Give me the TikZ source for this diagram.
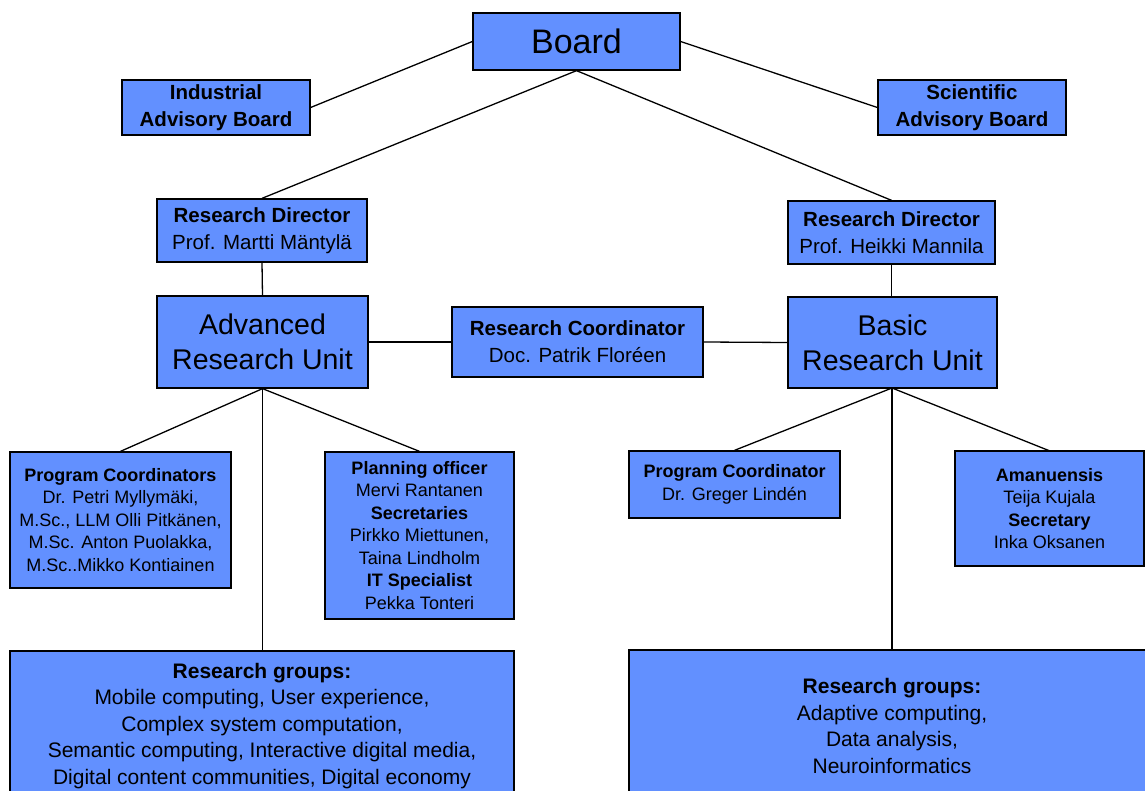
\documentclass[tikz,border=0pt]{standalone}
\usepackage{fontspec}
\setmainfont{Liberation Sans}
\definecolor{boxblue}{RGB}{98,144,255}
\tikzset{
  box/.style={draw=black, line width=1.3pt, fill=boxblue, align=center, inner sep=0pt},
  conn/.style={draw=black, line width=1.3pt},
  big/.style={font=\fontsize{34}{38}\selectfont},
  unit/.style={font=\fontsize{28.5}{35}\selectfont},
  mid/.style={font=\fontsize{20.5}{27}\selectfont},
  small/.style={font=\fontsize{18}{22.5}\selectfont},
  grp/.style={font=\fontsize{21}{26.5}\selectfont}
}
\begin{document}
\begin{tikzpicture}[x=1pt,y=-1pt]
\useasboundingbox (0,0) rectangle (1145,791);
\begin{scope}
\clip (0,0) rectangle (1145,791);
\node[box,big,minimum width=207,minimum height=57] (board) at (576.5,41.5) {\raisebox{-2pt}{Board}};
\node[box,mid,minimum width=188,minimum height=55] (iab) at (216,107.5) {\textbf{Industrial}\\\textbf{Advisory Board}};
\node[box,mid,minimum width=188,minimum height=55] (sab) at (972,107.5) {\textbf{Scientific}\\\textbf{Advisory Board}};
\node[box,mid,minimum width=210,minimum height=63] (rdl) at (262,230.5) {\textbf{Research Director}\\Prof. Martti Mäntylä};
\node[box,mid,minimum width=207,minimum height=63] (rdr) at (891.5,232.5) {\textbf{Research Director}\\Prof. Heikki Mannila};
\node[box,unit,minimum width=211,minimum height=92] (aru) at (262.5,342) {Advanced\\Research Unit};
\node[box,unit,minimum width=209,minimum height=91] (bru) at (892.5,342.5) {Basic\\Research Unit};
\node[box,mid,minimum width=251,minimum height=70] (rc) at (577.5,342) {\textbf{Research Coordinator}\\Doc. Patrik Floréen};
\node[box,small,minimum width=221,minimum height=136] (pcl) at (120.5,520) {\textbf{Program Coordinators}\\Dr. Petri Myllymäki,\\M.Sc., LLM Olli Pitkänen,\\M.Sc. Anton Puolakka,\\M.Sc..Mikko Kontiainen};
\node[box,small,minimum width=189,minimum height=167] (plan) at (419.5,535.5) {\textbf{Planning officer}\\Mervi Rantanen\\\textbf{Secretaries}\\Pirkko Miettunen,\\Taina Lindholm\\\textbf{IT Specialist}\\Pekka Tonteri};
\node[box,small,minimum width=211,minimum height=67] (pcr) at (734.5,484.5) {\textbf{Program Coordinator}\\Dr. Greger Lindén};
\node[box,small,minimum width=189,minimum height=115] (aman) at (1049.5,508.5) {\textbf{Amanuensis}\\Teija Kujala\\\textbf{Secretary}\\Inka Oksanen};
\node[box,grp,minimum width=504,minimum height=150] (rgl) at (262,726) {\textbf{Research groups:}\\Mobile computing, User experience,\\Complex system computation,\\Semantic computing, Interactive digital media,\\Digital content communities, Digital economy};
\node[box,minimum width=530,minimum height=150] (rgr) at (894,725) {};
\node[grp,align=center] (rgrt) at (892,726) {\textbf{Research groups:}\\Adaptive computing,\\Data analysis,\\Neuroinformatics};
\end{scope}
\draw[conn] (board.west) -- (iab.east);
\draw[conn] (board.east) -- (sab.west);
\draw[conn] (board.south) -- (rdl.north);
\draw[conn] (board.south) -- (rdr.north);
\draw[conn] (rdl.south) -- (aru.north);
\draw[conn] (rdr.south) -- (rdr.south |- bru.north);
\draw[conn] (aru.east) -- (rc.west);
\draw[conn] (rc.east) -- (bru.west);
\draw[conn] (aru.south) -- (pcl.north);
\draw[conn] (aru.south) -- (plan.north);
\draw[conn] (aru.south) -- (aru.south |- rgl.north);
\coordinate (bruB) at (892,388);
\draw[conn] (bruB) -- (pcr.north);
\draw[conn] (bruB) -- (1050,451);
\draw[conn] (bruB) -- (892,650);
\end{tikzpicture}
\end{document}
